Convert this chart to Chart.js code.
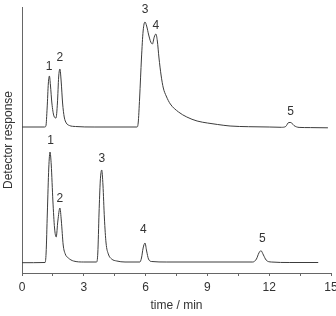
<!DOCTYPE html>
<html>
<head>
<meta charset="utf-8">
<script src="https://cdn.jsdelivr.net/npm/chart.js@4"></script>
<style>
  html, body { margin: 0; padding: 0; background: #fff; }
  canvas { display: block; }
</style>
</head>
<body>
<canvas id="chromChart" width="336" height="316"></canvas>
<script>
// upper trace (arbitrary response units)
const topTime = [0, 1.10, 1.16, 1.22, 1.28, 1.33, 1.38, 1.45, 1.55, 1.65, 1.72, 1.78, 1.84, 1.90, 1.97, 2.05, 2.15, 2.30, 2.6, 3.5, 5.0,
  5.58, 5.64, 5.71, 5.80, 5.88, 5.97, 6.05, 6.15, 6.25, 6.33, 6.42, 6.50, 6.57, 6.65, 6.75, 6.86, 7.0, 7.2, 7.6, 8.0, 8.5, 9.0, 9.5,
  10.1, 11.0, 12.0, 12.6, 12.8, 12.95, 13.05, 13.2, 13.45, 14.0, 14.85];
const topResponse = [146, 146, 147, 165, 190, 197, 188, 170, 157, 155, 170, 196, 204, 192, 170, 156, 150, 147.5, 146.5, 146, 146,
  146, 150, 175, 215, 242, 251, 247, 238, 231, 229, 236, 239, 232, 215, 198, 185, 177, 169, 161, 156, 152, 150, 148.5,
  147, 146.3, 146, 145.7, 146.5, 150.5, 150.5, 147.5, 145.6, 145.4, 145.2];

// lower trace
const bottomTime = [0, 1.12, 1.17, 1.23, 1.30, 1.36, 1.42, 1.50, 1.58, 1.66, 1.74, 1.84, 1.91, 2.0, 2.1, 2.25, 2.5, 3.0, 3.62,
  3.68, 3.74, 3.80, 3.87, 3.93, 4.00, 4.08, 4.19, 4.35, 4.6, 5.0, 5.72, 5.80, 5.88, 5.97, 6.05, 6.14, 6.3, 7.0, 10.0, 11.2,
  11.38, 11.5, 11.6, 11.72, 11.85, 12.1, 13.0, 14.38];
const bottomResponse = [10.3, 10.5, 20, 60, 105, 121, 108, 72, 45, 36, 52, 65, 52, 28, 19, 15, 12, 11, 11,
  20, 60, 92, 103, 88, 55, 30, 19, 14, 12, 11, 11, 15, 25, 30, 22, 14, 11.5, 11, 11, 11,
  14, 20, 22.3, 18, 13, 11, 10.5, 10.5];

// peak numbers, placed at (time, response)
const topPeakNames = ["1", "2", "3", "4", "5"];
const topPeakTime = [1.31, 1.84, 5.97, 6.50, 13.04];
const topPeakResponse = [206, 215, 263, 247, 161];
const bottomPeakNames = ["1", "2", "3", "4", "5"];
const bottomPeakTime = [1.39, 1.84, 3.87, 5.89, 11.67];
const bottomPeakResponse = [132, 74, 114, 43, 34];

const xTicks = [0, 3, 6, 9, 12, 15];

function toPoints(xs, ys) {
  return xs.map((x, i) => ({ x: x, y: ys[i] }));
}

const textColor = "#333";
const fontSpec = { family: "'Liberation Sans', Arial, sans-serif", size: 12 };

const peakLabels = {
  id: "peakLabels",
  afterDatasetsDraw(chart) {
    const ctx = chart.ctx;
    const xs = chart.scales.x;
    const ys = chart.scales.y;
    ctx.save();
    ctx.fillStyle = textColor;
    ctx.font = "12px 'Liberation Sans', Arial, sans-serif";
    ctx.textAlign = "center";
    ctx.textBaseline = "middle";
    topPeakNames.forEach((n, i) => {
      ctx.fillText(n, xs.getPixelForValue(topPeakTime[i]), ys.getPixelForValue(topPeakResponse[i]));
    });
    bottomPeakNames.forEach((n, i) => {
      ctx.fillText(n, xs.getPixelForValue(bottomPeakTime[i]), ys.getPixelForValue(bottomPeakResponse[i]));
    });
    ctx.restore();
  }
};

const lineStyle = {
  borderColor: "#3c3c3c",
  borderWidth: 1,
  pointRadius: 0,
  fill: false,
  cubicInterpolationMode: "monotone"
};

new Chart(document.getElementById("chromChart").getContext("2d"), {
  type: "line",
  data: {
    datasets: [
      Object.assign({ label: "upper", data: toPoints(topTime, topResponse) }, lineStyle),
      Object.assign({ label: "lower", data: toPoints(bottomTime, bottomResponse) }, lineStyle)
    ]
  },
  options: {
    responsive: false,
    animation: false,
    layout: { padding: { top: 7, right: 5, left: 0, bottom: 0 } },
    plugins: {
      legend: { display: false },
      tooltip: { enabled: false }
    },
    scales: {
      x: {
        type: "linear",
        min: 0,
        max: 15,
        afterFit(scale) {
          scale.height = 43;
          scale.paddingLeft = 0;
          scale.paddingRight = 0;
        },
        ticks: {
          stepSize: 1.5,
          color: textColor,
          font: fontSpec,
          padding: 4,
          maxRotation: 0,
          autoSkip: false,
          callback: (v) => (xTicks.includes(v) ? String(v) : "")
        },
        grid: {
          drawOnChartArea: false,
          drawTicks: true,
          tickLength: 3,
          color: "#666"
        },
        border: { display: true, color: "#666", width: 1 },
        title: {
          display: true,
          text: "time / min",
          color: textColor,
          font: fontSpec,
          padding: { top: 0, bottom: 3 }
        }
      },
      y: {
        min: 0,
        max: 266,
        afterFit(scale) {
          scale.width = 22;
        },
        ticks: { display: false },
        grid: { display: false, drawTicks: false },
        border: { display: true, color: "#666", width: 1 },
        title: {
          display: true,
          text: "Detector response",
          color: textColor,
          font: fontSpec,
          padding: { top: 1, bottom: 0 }
        }
      }
    }
  },
  plugins: [peakLabels]
});
</script>
</body>
</html>
